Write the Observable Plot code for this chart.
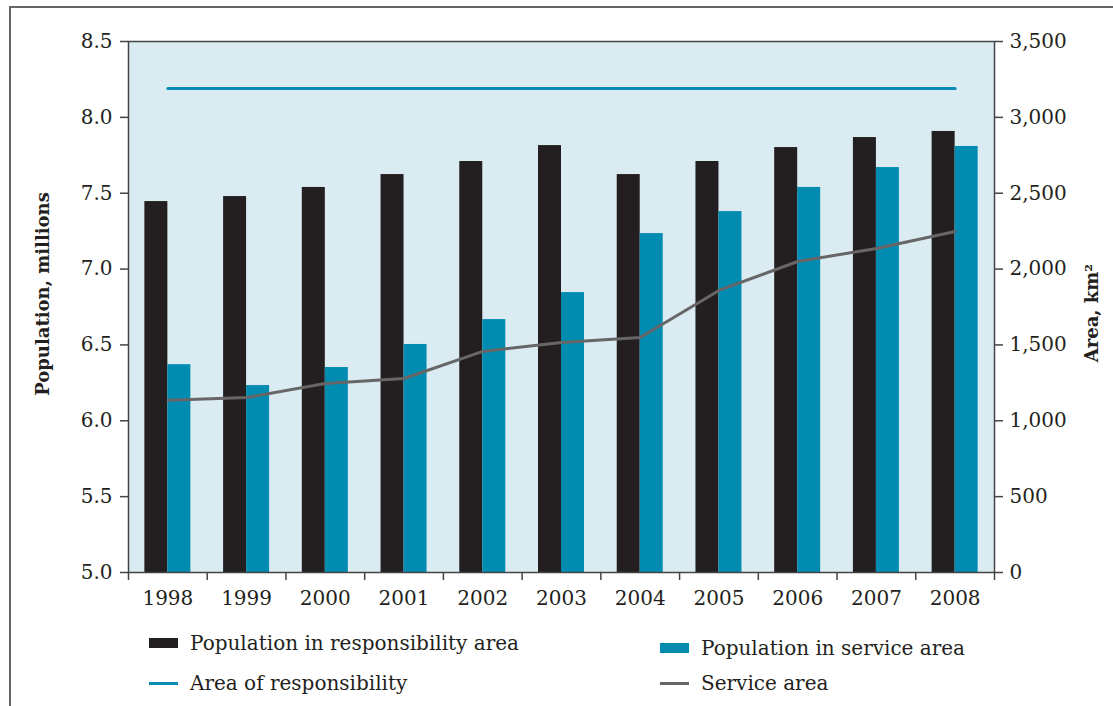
<!DOCTYPE html>
<html>
<head>
<meta charset="utf-8">
<script src="https://cdn.jsdelivr.net/npm/d3@7"></script>
<script src="https://cdn.jsdelivr.net/npm/@observablehq/plot@0.6"></script>
<style>
  html, body { margin: 0; padding: 0; background: #fff; }
  #wrap { position: relative; width: 1113px; height: 706px; overflow: hidden; font-family: "DejaVu Serif", serif; color: #231f20; }
  #border { position: absolute; left: 9px; top: 6px; width: 1200px; height: 800px; border-top: 2px solid #666; border-left: 2px solid #666; }
  #chart { position: absolute; left: 0; top: 0; }
  .leg { position: absolute; display: flex; align-items: center; font-size: 20px; white-space: nowrap; }
  .sw { display: inline-block; width: 29px; margin-right: 12px; }
  .box { height: 10px; }
  .ln { height: 3px; }
</style>
</head>
<body>
<div id="wrap">
  <div id="border"></div>
  <div id="chart"></div>
  <div class="leg" style="left:149px; top:631px;"><span class="sw box" style="background:#231f20"></span>Population in responsibility area</div>
  <div class="leg" style="left:660px; top:636px;"><span class="sw box" style="background:#008bb0"></span>Population in service area</div>
  <div class="leg" style="left:149px; top:671px;"><span class="sw ln" style="background:#0a8ab4"></span>Area of responsibility</div>
  <div class="leg" style="left:660px; top:671px;"><span class="sw ln" style="background:#666"></span>Service area</div>
</div>
<script>
const years = ["1998","1999","2000","2001","2002","2003","2004","2005","2006","2007","2008"];
const popResponsibility = [7.445, 7.478, 7.538, 7.623, 7.709, 7.814, 7.623, 7.709, 7.801, 7.867, 7.907];
const popService = [6.370, 6.232, 6.351, 6.503, 6.667, 6.845, 7.234, 7.379, 7.538, 7.669, 7.808];
const areaResponsibility = [3190, 3190, 3190, 3190, 3190, 3190, 3190, 3190, 3190, 3190, 3190];
const serviceArea = [1135, 1153, 1246, 1279, 1457, 1516, 1549, 1859, 2050, 2136, 2248];
const leftTicks = [5.0, 5.5, 6.0, 6.5, 7.0, 7.5, 8.0, 8.5];
const rightTicks = [0, 500, 1000, 1500, 2000, 2500, 3000, 3500];

const W = 1113, H = 620;
const mL = 128, mR = 119, mT = 41, mB = 48;
const bw = (W - mL - mR) / years.length;
const barW = 23;

// map area (km²) onto the population axis: 0 -> 5.0, 3500 -> 8.5
const areaToY = a => 5 + a / 1000;

const rows = years.map((y, i) => ({
  year: y,
  resp: popResponsibility[i],
  serv: popService[i],
  areaResp: areaResponsibility[i],
  areaServ: serviceArea[i]
}));

const fmt = d3.format(",");

const chart = Plot.plot({
  width: W, height: H,
  marginLeft: mL, marginRight: mR, marginTop: mT, marginBottom: mB,
  style: { fontFamily: "DejaVu Serif, serif", fontSize: "20px", color: "#231f20", background: "transparent" },
  x: { type: "band", domain: years, paddingInner: 0, paddingOuter: 0, round: false },
  y: { domain: [5, 8.5] },
  marks: [
    Plot.frame({ fill: "#dbebf2", stroke: null }),
    Plot.barY(rows, { x: "year", y1: 5, y2: "resp", fill: "#231f20", insetLeft: bw / 2 - barW, insetRight: bw / 2 }),
    Plot.barY(rows, { x: "year", y1: 5, y2: "serv", fill: "#008bb0", insetLeft: bw / 2, insetRight: bw / 2 - barW }),
    Plot.line(rows, { x: "year", y: d => areaToY(d.areaResp), stroke: "#0a8ab4", strokeWidth: 3 }),
    Plot.line(rows, { x: "year", y: d => areaToY(d.areaServ), stroke: "#666666", strokeWidth: 3 }),
    Plot.frame({ stroke: "#444", strokeWidth: 1.5 }),
    Plot.axisY({ anchor: "left", ticks: leftTicks, tickFormat: d3.format(".1f"), tickSize: 8, tickPadding: 8, label: null, stroke: "#444", strokeWidth: 1.5 }),
    Plot.axisY({ anchor: "right", ticks: leftTicks, tickFormat: d => fmt(Math.round((d - 5) * 1000)), tickSize: 8, tickPadding: 7, label: null, stroke: "#444", strokeWidth: 1.5 }),
    Plot.axisX({ anchor: "bottom", tickSize: 8, tickFormat: () => "", dx: -bw / 2, label: null, stroke: "#444", strokeWidth: 1.5 }),
    Plot.axisX({ anchor: "bottom", ticks: [years[years.length - 1]], tickSize: 8, tickFormat: () => "", dx: bw / 2, label: null, stroke: "#444", strokeWidth: 1.5 }),
    Plot.axisX({ anchor: "bottom", tickSize: 0, tickPadding: 18, label: null }),
    Plot.text(["Population, millions"], { frameAnchor: "left", textAnchor: "middle", rotate: -90, dx: -85, dy: -13, fontWeight: "bold", fontSize: 18, fill: "#231f20" }),
    Plot.text(["Area, km²"], { frameAnchor: "right", textAnchor: "middle", rotate: -90, dx: 98, dy: 6, fontWeight: "bold", fontSize: 18, fill: "#231f20" })
  ]
});
document.getElementById("chart").appendChild(chart);
</script>
</body>
</html>
